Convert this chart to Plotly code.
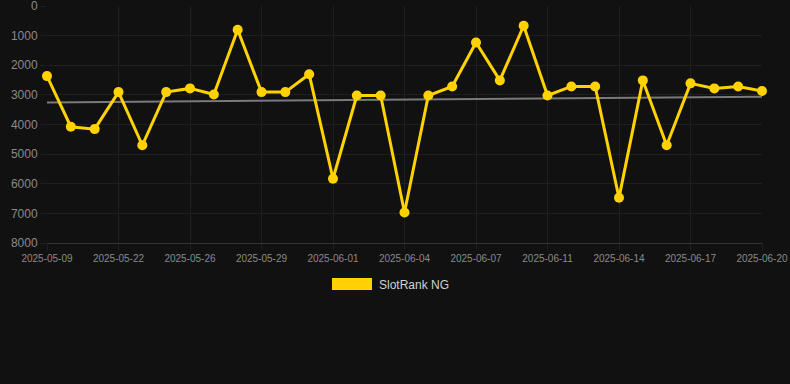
import numpy as np
import plotly.graph_objects as go

dates = [
    "2025-05-09", "2025-05-13", "2025-05-18", "2025-05-22", "2025-05-23", "2025-05-24",
    "2025-05-26", "2025-05-27", "2025-05-28", "2025-05-29", "2025-05-30", "2025-05-31",
    "2025-06-01", "2025-06-02", "2025-06-03", "2025-06-04", "2025-06-05", "2025-06-06",
    "2025-06-07", "2025-06-08", "2025-06-10", "2025-06-11", "2025-06-12", "2025-06-13",
    "2025-06-14", "2025-06-15", "2025-06-16", "2025-06-17", "2025-06-18", "2025-06-19",
    "2025-06-20",
]
rank = [
    2365, 4075, 4155, 2905, 4700, 2905, 2780, 2985, 800, 2905, 2905, 2300,
    5830, 3020, 3020, 6970, 3020, 2715, 1230, 2510, 665, 3020, 2715, 2715,
    6475, 2510, 4700, 2610, 2780, 2715, 2870,
]
tick_labels = dates[::3]
y_ticks = [0, 1000, 2000, 3000, 4000, 5000, 6000, 7000, 8000]
series_name = "SlotRank NG"

idx = np.arange(len(rank))
slope, intercept = np.polyfit(idx, rank, 1)
trend = slope * idx + intercept

gold = "#FFD200"
grid = "#1f1f1f"

fig = go.Figure()
fig.add_trace(go.Scatter(
    x=dates, y=trend, mode="lines",
    line=dict(color="#7a7a7a", width=2),
    hoverinfo="skip", showlegend=False, cliponaxis=False,
))
fig.add_trace(go.Scatter(
    x=dates, y=rank, mode="lines+markers", name=series_name,
    line=dict(color=gold, width=3),
    marker=dict(color=gold, size=10),
    showlegend=False, cliponaxis=False,
))

# legend drawn manually (rectangle swatch + label)
fig.add_shape(type="rect", xref="paper", yref="paper",
              x0=(332 - 47) / 715, x1=(372 - 47) / 715,
              y0=(243 - 290) / 237, y1=(243 - 278) / 237,
              fillcolor=gold, line=dict(width=0))
fig.add_annotation(text=series_name, xref="paper", yref="paper",
                   x=(377 - 47) / 715, y=(243 - 284.5) / 237,
                   xanchor="left", yanchor="middle", showarrow=False,
                   font=dict(size=12, color="#d0d0d0"))

fig.update_layout(
    width=790, height=384,
    margin=dict(l=47, r=28, t=6, b=141, autoexpand=False),
    paper_bgcolor="#111111", plot_bgcolor="#111111",
    font=dict(family="Liberation Sans, Arial, sans-serif", color="#8a8a8a"),
    showlegend=False,
)
fig.update_xaxes(
    type="category", range=[0, len(dates) - 1],
    tickvals=tick_labels, ticktext=tick_labels,
    tickfont=dict(size=10, color="#8a8a8a"),
    showgrid=True, gridcolor=grid, gridwidth=1,
    ticks="outside", ticklen=6, tickcolor=grid,
    showline=True, linecolor="#333333", linewidth=1,
    zeroline=False, automargin=False, ticklabeloverflow="allow",
)
fig.update_yaxes(
    range=[8000, -2], tickvals=y_ticks,
    tickfont=dict(size=12, color="#8a8a8a"),
    showgrid=True, gridcolor=grid, gridwidth=1,
    ticks="outside", ticklen=6, tickcolor=grid,
    showline=False, zeroline=False, automargin=False, ticklabeloverflow="allow",
)

fig.write_html("out.html")
